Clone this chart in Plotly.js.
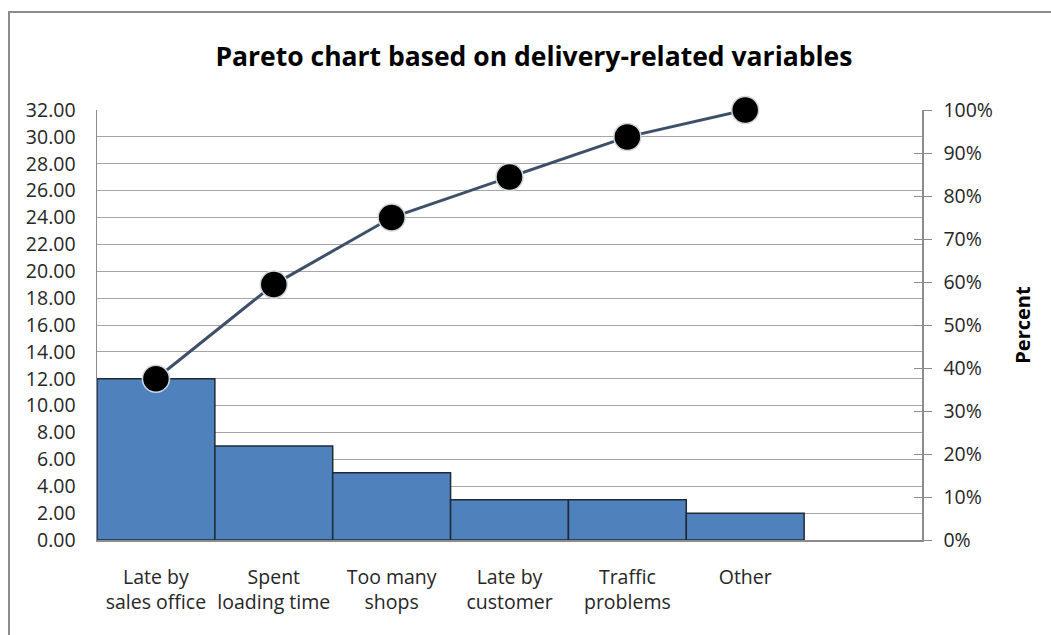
<!DOCTYPE html>
<html>
<head>
<meta charset="utf-8">
<script src="https://cdn.plot.ly/plotly-3.0.1.min.js"></script>
<style>
  html, body { margin:0; padding:0; background:#fff; }
  body { width:1051px; height:635px; overflow:hidden; }
  #frame { position:absolute; left:8px; top:11px; width:1200px; height:800px; border-left:2px solid #8c8c8c; border-top:2px solid #8c8c8c; }
  #chart { position:absolute; left:0; top:0; width:1051px; height:635px; }
</style>
</head>
<body>
<div id="frame"></div>
<div id="chart"></div>
<script>
const categories = ["Late by<br>sales office", "Spent<br>loading time", "Too many<br>shops", "Late by<br>customer", "Traffic<br>problems", "Other"];
const counts = [12, 7, 5, 3, 3, 2];
const cumulativePct = [0.375, 0.594, 0.75, 0.844, 0.9375, 1.0];
const leftTicks = [0,2,4,6,8,10,12,14,16,18,20,22,24,26,28,30,32];
const rightTicks = [0,0.1,0.2,0.3,0.4,0.5,0.6,0.7,0.8,0.9,1.0];

const xIdx = categories.map((c, i) => i);
const font = "Open Sans, Noto Sans, sans-serif";

const bars = {
  type: 'bar', x: xIdx, y: counts, width: 1,
  marker: { color: '#4F81BD', line: { color: '#1F2A38', width: 1.5 } },
  hoverinfo: 'skip', showlegend: false
};
const line = {
  type: 'scatter', mode: 'lines+markers', x: xIdx, y: cumulativePct, yaxis: 'y2',
  cliponaxis: false,
  line: { color: '#3E5068', width: 3 },
  marker: { color: '#000000', size: 27, line: { color: '#d0d6de', width: 1.5 } },
  hoverinfo: 'skip', showlegend: false
};
// invisible helper trace so the inner-tick axis (y3) is drawn
const helper = {
  type: 'scatter', mode: 'none', x: [xIdx[0]], y: [cumulativePct[0]], yaxis: 'y3',
  hoverinfo: 'skip', showlegend: false
};

const layout = {
  width: 1051, height: 635,
  margin: { l: 97, r: 129, t: 110, b: 95 },
  paper_bgcolor: 'rgba(0,0,0,0)', plot_bgcolor: 'rgba(0,0,0,0)',
  font: { family: font, color: '#262626' },
  title: { text: '<b>Pareto chart based on delivery-related variables</b>', x: 0.508, xanchor: 'center', y: 0.91, yanchor: 'middle',
           font: { family: font, size: 26.5, color: '#000' } },
  bargap: 0,
  xaxis: {
    range: [-0.5, 6.5], tickvals: xIdx, ticktext: categories,
    showgrid: false, zeroline: false, showline: true, linecolor: '#8c8c8c', linewidth: 1.5,
    ticks: '', tickfont: { size: 19.5, color: '#262626' }, ticklabelstandoff: 19, fixedrange: true
  },
  yaxis: {
    range: [0, 32], tickvals: leftTicks, tickformat: '.2f',
    showgrid: true, gridcolor: '#a6a6a6', gridwidth: 1,
    zeroline: false, showline: true, linecolor: '#8c8c8c', linewidth: 1.5,
    ticks: '', tickfont: { size: 19.5, color: '#262626' }, ticklabelstandoff: 16
  },
  yaxis2: {
    overlaying: 'y', side: 'right', range: [0, 1], tickvals: rightTicks, tickformat: '.0%',
    showgrid: false, zeroline: false, showline: true, linecolor: '#8c8c8c', linewidth: 1.5,
    ticks: 'outside', ticklen: 8, tickcolor: '#8c8c8c', tickfont: { size: 19.5, color: '#262626' }, ticklabelstandoff: 8,
    title: { text: '<b>Percent</b>', font: { size: 20, color: '#000' }, standoff: 24 }
  },
  yaxis3: {
    overlaying: 'y', side: 'right', range: [0, 1], tickvals: rightTicks,
    showgrid: false, zeroline: false, showline: false, showticklabels: false,
    ticks: 'inside', ticklen: 8, tickcolor: '#8c8c8c'
  }
};

Plotly.newPlot('chart', [bars, line, helper], layout, { staticPlot: true, displayModeBar: false });
</script>
</body>
</html>
